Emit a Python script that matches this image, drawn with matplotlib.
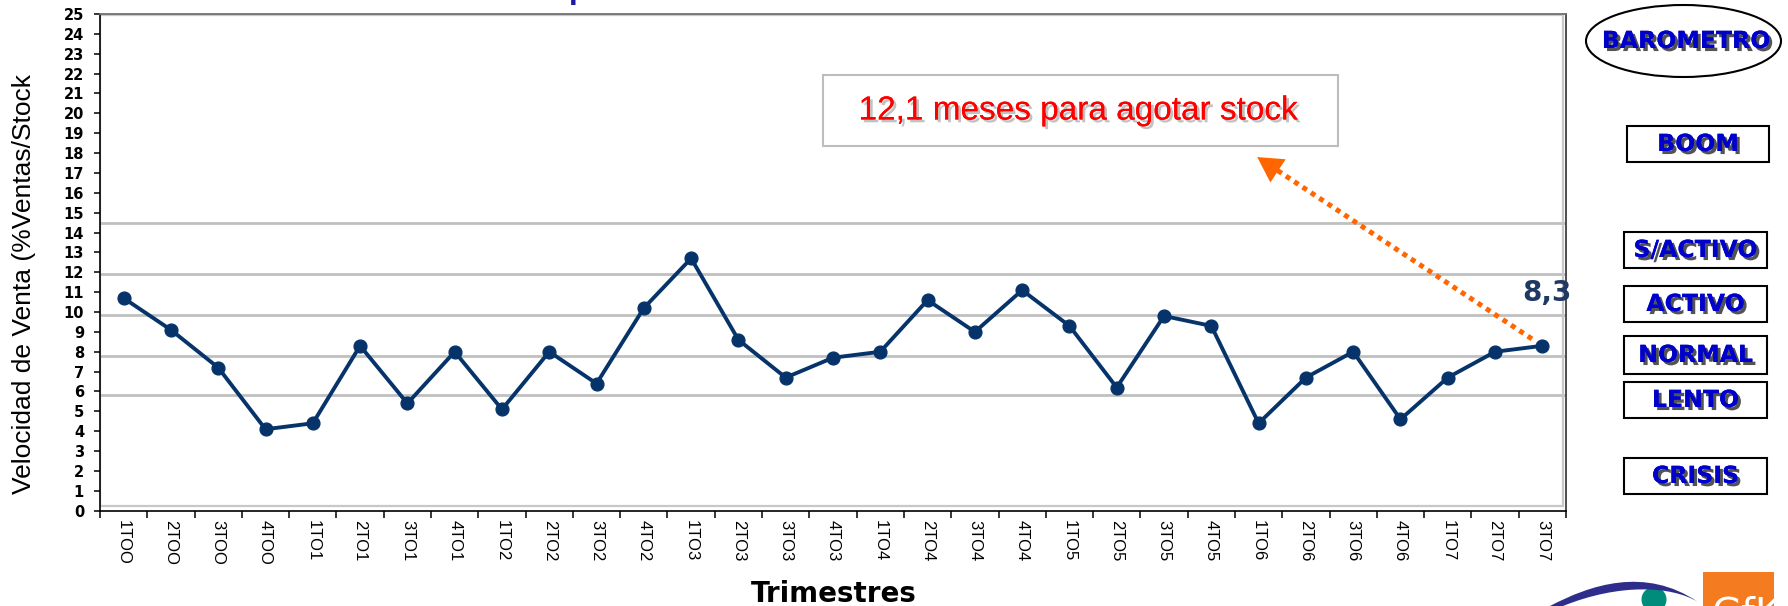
import matplotlib
matplotlib.use("Agg")
import matplotlib.pyplot as plt
from matplotlib import patheffects as pe
from matplotlib.patches import Rectangle, Ellipse, Circle, PathPatch
from matplotlib.path import Path

# Quarterly series
trimestres = ["1TOO", "2TOO", "3TOO", "4TOO",
              "1TO1", "2TO1", "3TO1", "4TO1",
              "1TO2", "2TO2", "3TO2", "4TO2",
              "1TO3", "2TO3", "3TO3", "4TO3",
              "1TO4", "2TO4", "3TO4", "4TO4",
              "1TO5", "2TO5", "3TO5", "4TO5",
              "1TO6", "2TO6", "3TO6", "4TO6",
              "1TO7", "2TO7", "3TO7"]
velocidad = [10.7, 9.1, 7.2, 4.1, 4.4, 8.3, 5.4, 8.0, 5.1, 8.0, 6.4, 10.2,
             12.7, 8.6, 6.7, 7.7, 8.0, 10.6, 9.0, 11.1, 9.3, 6.2, 9.8, 9.3,
             4.4, 6.7, 8.0, 4.6, 6.7, 8.0, 8.3]

# Barometer thresholds (horizontal reference lines)
umbrales = [5.8, 7.8, 9.85, 11.9, 14.5]
niveles = ["BOOM", "S/ACTIVO", "ACTIVO", "NORMAL", "LENTO", "CRISIS"]
meses_stock = 12.1

y_ticks = list(range(0, 26))

W, H = 1788, 606
NAVY = "#06346A"
BLUE = "#0000CC"
ORANGE = "#FF6600"

fig = plt.figure(figsize=(W / 100, H / 100), dpi=100)
ax = fig.add_axes([100 / W, 95.3 / H, 1466 / W, 496.7 / H])

xs = list(range(len(trimestres)))
for u in umbrales:
    ax.axhline(u, color="#C0C0C0", lw=2.0, zorder=1)
ax.add_patch(Rectangle((0, 0.01), 0.998, 0.988, transform=ax.transAxes,
                       fill=False, edgecolor="#C8C8C8", lw=1.6, zorder=1))

ax.plot(xs, velocidad, color=NAVY, lw=2.8, marker="o", ms=9.2,
        markeredgecolor=NAVY, markerfacecolor=NAVY, zorder=3)

ax.set_xlim(-0.5, len(trimestres) - 0.5)
ax.set_ylim(0, 25)

ax.set_yticks(y_ticks)
ax.set_yticklabels([str(v) for v in y_ticks], fontfamily="DejaVu Sans",
                   fontweight="bold", fontsize=10.5)
ax.tick_params(axis="y", direction="out", length=4.5, width=1.1, pad=7)

ax.set_xticks(xs)
ax.set_xticklabels(trimestres, rotation=270, fontsize=12,
                   fontfamily="Liberation Sans")
ax.set_xticks([i - 0.5 for i in range(len(trimestres) + 1)], minor=True)
ax.tick_params(axis="x", which="major", length=0, pad=7)
ax.tick_params(axis="x", which="minor", direction="out", length=5, width=1.1)

for side in ("left", "bottom"):
    ax.spines[side].set_color("black")
    ax.spines[side].set_linewidth(1.2)
ax.spines["top"].set_color("#707070")
ax.spines["top"].set_linewidth(1.3)
ax.spines["right"].set_color("#404040")
ax.spines["right"].set_linewidth(1.3)

# Last value label
ultimo = velocidad[-1]
ax.annotate(f"{ultimo:.1f}".replace(".", ","), xy=(xs[-1], ultimo),
            xytext=(3.6, 38), textcoords="offset points",
            ha="center", va="center", fontsize=20, fontweight="bold",
            fontfamily="DejaVu Sans", color="#1F3864", zorder=6,
            annotation_clip=False)

# Dotted arrow from the last point towards the stock note
punta = (23.97, 17.8)
ax.annotate("", xy=punta, xytext=(xs[-1], ultimo),
            arrowprops=dict(arrowstyle="-", color=ORANGE, lw=3.6,
                            linestyle=(0, (1, 1)), capstyle="butt",
                            shrinkA=9, shrinkB=8),
            zorder=4)
ax.annotate("", xy=punta, xytext=(xs[-1], ultimo),
            arrowprops=dict(arrowstyle="-|>,head_length=0.9,head_width=0.5",
                            facecolor=ORANGE, edgecolor=ORANGE, lw=0,
                            shrinkA=9, shrinkB=0, mutation_scale=20),
            zorder=4)

# Axis titles
fig.text(24 / W, 1 - 284.5 / H, "Velocidad de Venta (%Ventas/Stock",
         rotation=90, fontsize=19, fontfamily="Liberation Sans",
         ha="center", va="center")
fig.text(833.5 / W, 1 - 594 / H, "Trimestres", fontsize=20,
         fontweight="bold", fontfamily="DejaVu Sans", ha="center", va="center")
fig.text(569 / W, 1.0, "p", fontsize=18, fontweight="bold",
         fontfamily="DejaVu Sans", color="#1B1BA8", ha="left", va="baseline")

# Overlay in pixel coordinates for the note, barometer and logo
ov = fig.add_axes([0, 0, 1, 1], zorder=5)
ov.set_xlim(0, W)
ov.set_ylim(H, 0)
ov.axis("off")
ov.patch.set_alpha(0)

ov.add_patch(Rectangle((823, 75), 515, 71, facecolor="white",
                       edgecolor="#BDBDBD", lw=1.5))
nota = f"{meses_stock:.1f}".replace(".", ",") + " meses para agotar stock"
ov.text(1078, 111, nota, color="#FF0000", fontsize=24,
        fontfamily="Liberation Sans", ha="center", va="center",
        path_effects=[pe.withSimplePatchShadow(offset=(2, -2),
                                               shadow_rgbFace="#999999",
                                               alpha=0.6),
                      pe.Normal()])

sombra = [pe.withSimplePatchShadow(offset=(2.2, -2.2),
                                   shadow_rgbFace="#1a1a1a", alpha=0.75),
          pe.Normal()]

ov.add_patch(Ellipse((1683.5, 41), 195, 72, fill=False,
                     edgecolor="black", lw=1.5))
ov.text(1686, 41, "BAROMETRO", color=BLUE, fontsize=17, fontweight="bold",
        fontfamily="DejaVu Sans", ha="center", va="center",
        path_effects=sombra)

cajas = [(1627, 126, 142, 36), (1624, 232, 143, 36), (1624, 286, 143, 36),
         (1624, 336, 143, 38), (1624, 382, 143, 36), (1624, 458, 143, 36)]
for nombre, (x0, y0, w, h) in zip(niveles, cajas):
    ov.add_patch(Rectangle((x0, y0), w, h, facecolor="white",
                           edgecolor="black", lw=1.5))
    ov.text(x0 + w / 2, y0 + h / 2, nombre, color=BLUE, fontsize=17,
            fontweight="bold", fontfamily="DejaVu Sans",
            ha="center", va="center", path_effects=sombra)

# Logo
ov.add_patch(Circle((1654, 599.5), 12.5, color="#008C7A", lw=0))
arco = Path([(1550, 606), (1590, 585), (1645, 566), (1698, 602),
             (1672, 586), (1620, 583), (1563, 606), (1550, 606)],
            [Path.MOVETO, Path.CURVE4, Path.CURVE4, Path.CURVE4,
             Path.CURVE4, Path.CURVE4, Path.CURVE4, Path.CLOSEPOLY])
ov.add_patch(PathPatch(arco, facecolor="#2E2D8C", edgecolor="none"))
ov.add_patch(Rectangle((1703, 572), 71, 40, facecolor="#F47B20",
                       edgecolor="none"))
ov.text(1712, 626, "GfK", color="white", fontsize=28,
        fontfamily="DejaVu Sans", ha="left", va="baseline")

fig.savefig("out.png", dpi=100)
